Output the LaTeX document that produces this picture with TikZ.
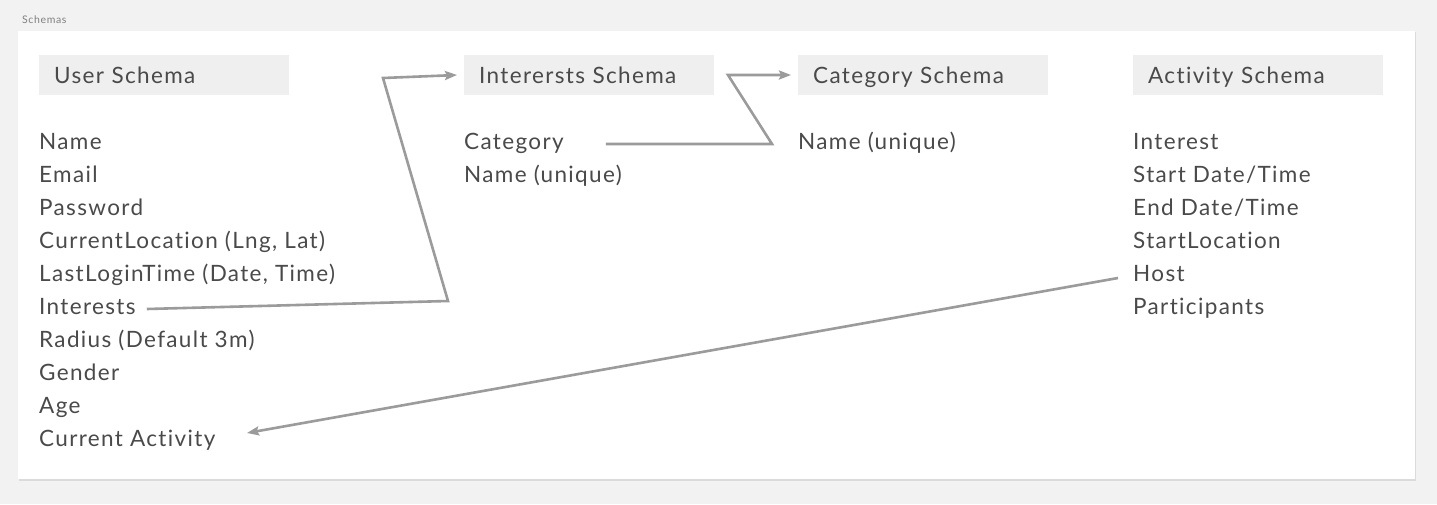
\documentclass[tikz,border=0pt]{standalone}
\usepackage{fontspec}
\setmainfont{Lato}[Ligatures=NoCommon, LetterSpace=6.0]
\usepackage{xcolor}
\usepackage{tikz}
\usetikzlibrary{arrows.meta,positioning}

\definecolor{pagebg}{HTML}{F2F2F2}
\definecolor{headfill}{HTML}{EFEFEF}
\definecolor{inktext}{HTML}{4A4A4A}
\definecolor{linkgray}{HTML}{9B9B9B}

\begin{document}
\begin{tikzpicture}[
  x=1pt, y=-1pt,
  >={Stealth[length=12pt, width=9pt, inset=2pt]},
  every node/.style={font=\fontsize{22.5}{26}\selectfont, text=inktext},
  head/.style={fill=headfill, anchor=west, minimum width=250pt, minimum height=40pt, text width=220pt, text height=16pt, text depth=0pt, inner xsep=15pt, inner ysep=0pt, align=left},
  field/.style={anchor=base west, inner sep=0pt},
  link/.style={draw=linkgray, line width=2.6pt, line join=miter}
]

% page and card
\fill[pagebg] (0,0) rectangle (1437,504);
\useasboundingbox (0,0) rectangle (1437,504);
\node[anchor=base west, inner sep=0pt, font=\fontsize{10.5}{12}\selectfont, text=black!50] (title) at (22,23) {Schemas};
\fill[black!14] (19,32) rectangle (1416,481);
\fill[white] (18,31) rectangle (1415,479);

% headers
\node[head] (userHead) at (39,75) {User Schema};
\node[head] (intHead) at (464,75) {Interersts Schema};
\node[head] (catHead) at (798,75) {Category Schema};
\node[head] (actHead) at (1133,75) {Activity Schema};

% user schema fields
\node[field] (uName) at (39,149) {Name};
\node[field] (uEmail) at (39,182) {Email};
\node[field] (uPass) at (39,215) {Password};
\node[field] (uLoc) at (39,248) {CurrentLocation (Lng, Lat)};
\node[field] (uLogin) at (39,281) {LastLoginTime (Date, Time)};
\node[field] (uInt) at (39,314) {Interests};
\node[field] (uRad) at (39,347) {Radius (Default 3m)};
\node[field] (uGender) at (39,380) {Gender};
\node[field] (uAge) at (39,413) {Age};
\node[field] (uAct) at (39,446) {Current Activity};

% interests schema fields
\node[field] (iCat) at (464,149) {Category};
\node[field] (iName) at (464,182) {Name (unique)};

% category schema fields
\node[field] (cName) at (798,149) {Name (unique)};

% activity schema fields
\node[field] (aInt) at (1133,149) {Interest};
\node[field] (aStart) at (1133,182) {Start Date/Time};
\node[field] (aEnd) at (1133,215) {End Date/Time};
\node[field] (aLoc) at (1133,248) {StartLocation};
\node[field] (aHost) at (1133,281) {Host};
\node[field] (aPart) at (1133,314) {Participants};

% links
\coordinate (intBend) at (448,301);
\coordinate (intTop) at (383,78);
\coordinate (catBend) at (772,144);
\coordinate (catTop) at (728,75);

\draw[link, ->] (uInt.base east) ++(11,-5) -- (intBend) -- (intTop) -- ([xshift=-7pt]intHead.west);
\draw[link, ->] (iCat.base east) ++(42,-5) -- (catBend) -- (catTop) -- ([xshift=-7pt]catHead.west);
\draw[link, ->] (aHost.base west) ++(-15,-3) -- ([xshift=208pt, yshift=13pt]uAct.base west);

\end{tikzpicture}
\end{document}
